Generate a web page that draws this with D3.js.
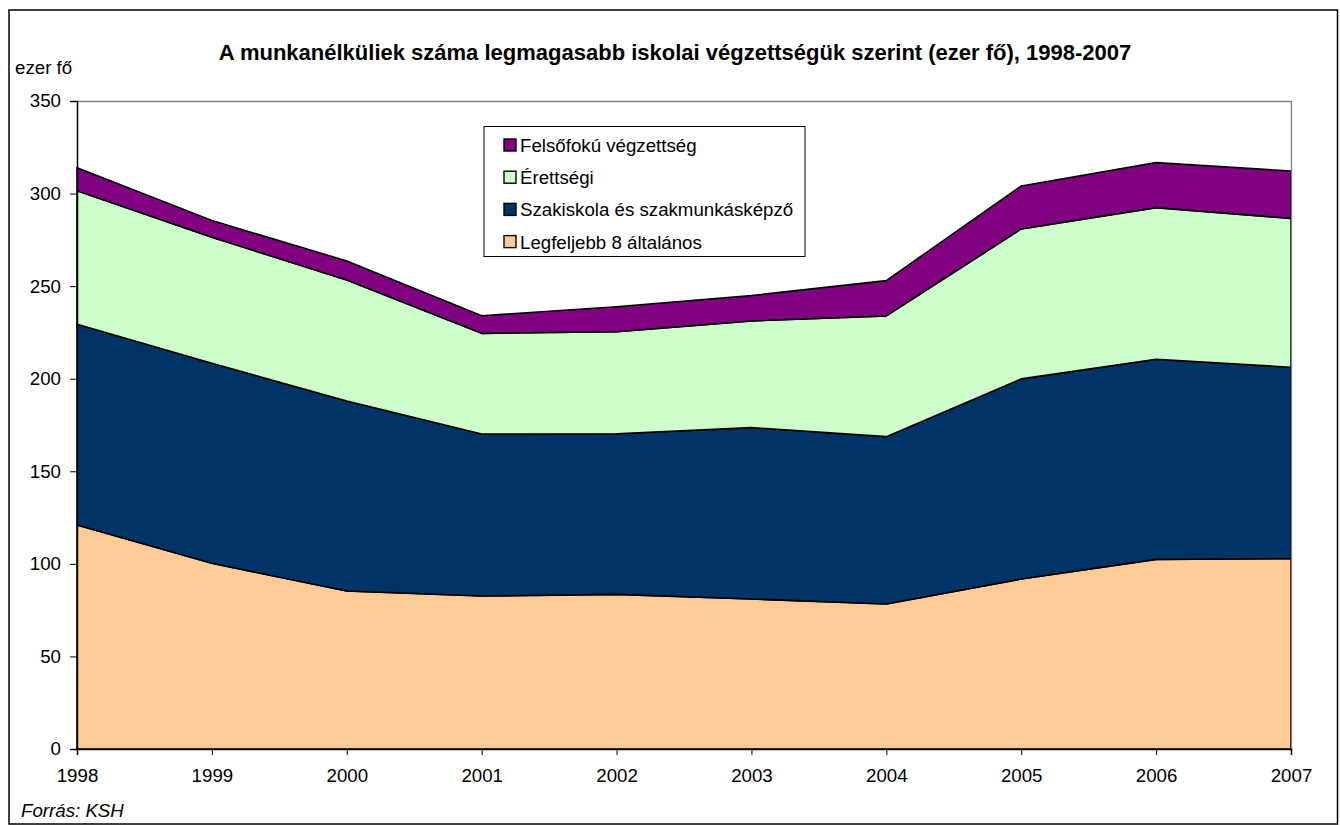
<!DOCTYPE html>
<html><head><meta charset="utf-8">
<script src="https://cdn.jsdelivr.net/npm/d3@7"></script>
<style>body{margin:0;background:#fff}svg{display:block;font-family:"Liberation Sans",Arial,sans-serif}</style>
</head><body><svg id="c" width="1340" height="825"></svg>
<script>
const years = [1998,1999,2000,2001,2002,2003,2004,2005,2006,2007];
const legfeljebb8 = [121.0,100.3,85.3,82.6,83.5,81.0,78.3,91.8,102.4,102.8];
const szakiskola  = [108.4,108.0,102.7,87.5,86.8,92.6,90.4,108.1,108.1,103.4];
const erettsegi   = [72.1,68.1,65.3,54.4,55.1,57.6,65.2,81.0,81.9,80.4];
const felsofoku   = [12.5,9.0,10.3,9.5,13.5,13.7,19.1,23.2,24.3,25.6];
const seriesNames = ["Legfeljebb 8 általános","Szakiskola és szakmunkásképző","Érettségi","Felsőfokú végzettség"];
const seriesColors = ["#FFCC99","#003366","#CCFFCC","#800080"];
const yTicks = [0,50,100,150,200,250,300,350];

const FF = "Liberation Sans, Arial, sans-serif";
const svg = d3.select("#c");
const L=77,R=1291,T=101,B=749;
svg.append("rect").attr("x",9).attr("y",10).attr("width",1328.5).attr("height",814)
  .attr("fill","#fff").attr("stroke","#000").attr("stroke-width",1.5);

const x = d3.scalePoint().domain(years).range([L,R]);
const y = d3.scaleLinear().domain([0,350]).range([B,T]);

const rows = years.map((yr,i)=>({year:yr, s0:legfeljebb8[i], s1:szakiskola[i], s2:erettsegi[i], s3:felsofoku[i]}));
const layers = d3.stack().keys(["s0","s1","s2","s3"])(rows);
const area = d3.area().x(d=>x(d.data.year)).y0(d=>y(d[0])).y1(d=>y(d[1]));
svg.append("g").selectAll("path").data(layers).join("path")
  .attr("d",area).attr("fill",(d,i)=>seriesColors[i])
  .attr("stroke","#000").attr("stroke-width",1.6).attr("stroke-linejoin","round");

// plot area border top/right
svg.append("line").attr("x1",L).attr("x2",R).attr("y1",T+0.5).attr("y2",T+0.5).attr("stroke","#808080").attr("stroke-width",1.3);
svg.append("line").attr("x1",R+0.5).attr("x2",R+0.5).attr("y1",T).attr("y2",B).attr("stroke","#808080").attr("stroke-width",1.3);

// y axis
const ya = svg.append("g").attr("transform",`translate(${L},0)`)
  .call(d3.axisLeft(y).tickValues(yTicks).tickSize(7).tickPadding(9));
ya.select(".domain").attr("stroke","#000").attr("stroke-width",1.5);
ya.selectAll(".tick line").attr("stroke","#000");
ya.selectAll("text").attr("font-size",18.7).attr("fill","#000").attr("font-family",FF);

// x axis
const xa = svg.append("g").attr("transform",`translate(0,${B})`)
  .call(d3.axisBottom(x).tickSize(6).tickPadding(14).tickFormat(d3.format("d")));
xa.select(".domain").attr("stroke","#000").attr("stroke-width",1.5);
xa.selectAll(".tick line").attr("stroke","#000");
xa.selectAll("text").attr("font-size",18.7).attr("fill","#000").attr("font-family",FF);

// title and notes
svg.append("text").attr("x",675).attr("y",60).attr("text-anchor","middle")
  .attr("font-size",22).attr("font-weight","bold")
  .text("A munkanélküliek száma legmagasabb iskolai végzettségük szerint (ezer fő), 1998-2007");
svg.append("text").attr("x",15).attr("y",74).attr("font-size",18.7).text("ezer fő");
svg.append("text").attr("x",21).attr("y",817).attr("font-size",18.7).attr("font-style","italic").text("Forrás: KSH");

// legend
const lg = svg.append("g");
lg.append("rect").attr("x",484).attr("y",126.5).attr("width",321).attr("height",130)
  .attr("fill","#fff").attr("stroke","#000").attr("stroke-width",1);
[3,2,1,0].forEach((si,k)=>{
  const base = 152 + k*32.2;
  lg.append("rect").attr("x",504).attr("y",base-13).attr("width",12).attr("height",12)
    .attr("fill",seriesColors[si]).attr("stroke","#000").attr("stroke-width",1.4);
  lg.append("text").attr("x",520).attr("y",base).attr("font-size",18.7).text(seriesNames[si]);
});
</script></body></html>
